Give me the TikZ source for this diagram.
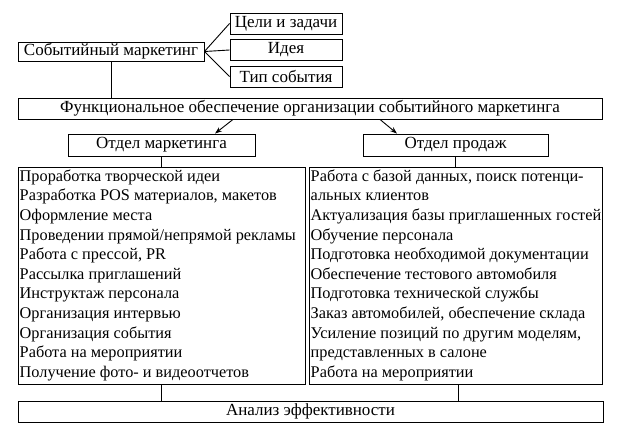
\documentclass[tikz,border=0pt]{standalone}
\usepackage{fontspec}
\setmainfont{Liberation Serif}
\usetikzlibrary{arrows.meta}
\begin{document}
\begin{tikzpicture}[x=1pt,y=-1pt,
  every node/.style={font=\fontsize{17}{19.6}\selectfont},
  box/.style={draw, line width=0.9pt, inner sep=0pt, anchor=center},
  listtext/.style={inner sep=0pt, align=left, anchor=north west, font=\fontsize{16.3}{19.6}\selectfont},
  conn/.style={line width=0.9pt},
  arr/.style={line width=0.9pt, -{Stealth[length=7pt,width=5pt]}}]
\useasboundingbox (0,0) rectangle (623,431);
\node[box, minimum width=186pt, minimum height=19pt] (sm) at (111,51.5) {Событийный маркетинг};
\node[box, minimum width=112pt, minimum height=21pt] (cz) at (286,23.5) {Цели и задачи};
\node[box, minimum width=112pt, minimum height=21pt] (id) at (286,50) {Идея};
\node[box, minimum width=112pt, minimum height=21pt] (ts) at (286,76.5) {Тип события};
\node[box, minimum width=584pt, minimum height=21pt] (fo) at (310,108.5) {Функциональное обеспечение организации событийного маркетинга};
\node[box, minimum width=187pt, minimum height=22pt] (om) at (161.5,145) {Отдел маркетинга};
\node[box, minimum width=185pt, minimum height=22pt] (op) at (455.5,145) {Отдел продаж};
\node[box, minimum width=287pt, minimum height=217pt] (lm) at (161.5,275.5) {};
\node[box, minimum width=293pt, minimum height=217pt] (lp) at (455.5,275.5) {};
\node[box, minimum width=585pt, minimum height=21pt] (an) at (310.5,411.5) {Анализ эффективности};
\node[listtext] (lmt) at (19.5,169.5) {Проработка творческой идеи\\
Разработка POS материалов, макетов\\
Оформление места\\
Проведении прямой/непрямой рекламы\\
Работа с прессой, PR\\
Рассылка приглашений\\
Инструктаж персонала\\
Организация интервью\\
Организация события\\
Работа на мероприятии\\
Получение фото- и видеоотчетов};
\node[listtext] (lpt) at (310.5,169.5) {Работа с базой данных, поиск потенци-\\
альных клиентов\\
Актуализация базы приглашенных гостей\\
Обучение персонала\\
Подготовка необходимой документации\\
Обеспечение тестового автомобиля\\
Подготовка технической службы\\
Заказ автомобилей, обеспечение склада\\
Усиление позиций по другим моделям,\\
представленных в салоне\\
Работа на мероприятии};
\draw[conn] (sm.east) -- (cz.west);
\draw[conn] (sm.east) -- (id.west);
\draw[conn] (sm.east) -- (ts.west);
\draw[conn] (sm.south) -- (sm.south |- fo.north);
\coordinate (fa) at (fo.south -| 233,0);
\coordinate (fb) at (fo.south -| 380,0);
\draw[arr] (fa) -- (om.north -| 215,0);
\draw[arr] (fb) -- (op.north -| 397,0);
\draw[conn] (om.south) -- (lm.north);
\draw[conn] (op.south) -- (lp.north);
\draw[conn] (lm.south) -- (lm.south |- an.north);
\draw[conn] (lp.south -| 458,0) -- (an.north -| 458,0);
\end{tikzpicture}
\end{document}
